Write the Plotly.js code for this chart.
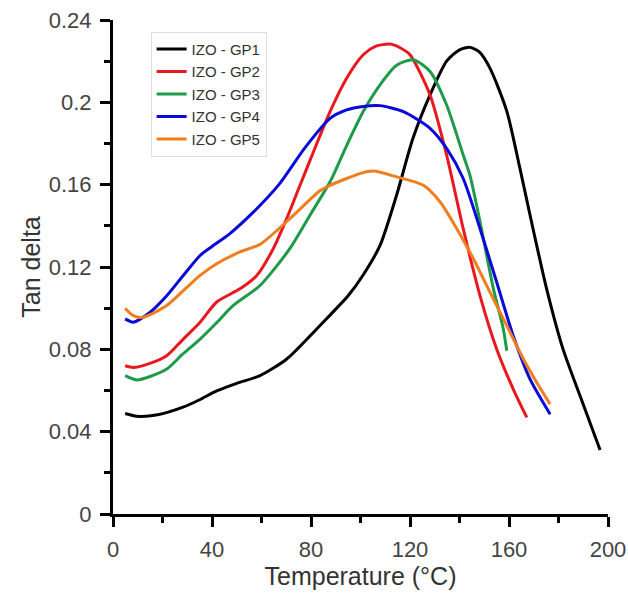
<!DOCTYPE html>
<html>
<head>
<meta charset="utf-8">
<script src="https://cdn.plot.ly/plotly-3.0.1.min.js"></script>
<style>html,body{margin:0;padding:0;background:#fff;}#chart{width:628px;height:597px;}</style>
</head>
<body>
<div id="chart"></div>
<script>
const seriesNames = ["IZO - GP1", "IZO - GP2", "IZO - GP3", "IZO - GP4", "IZO - GP5"];
const seriesColors = ["#000000", "#e8191e", "#1e9a48", "#0a0ad8", "#f07e1e"];

const gp1T = [4.9, 9.6, 18, 28.3, 35, 41.9, 50, 59.4, 70.2, 82.3, 88, 95, 101, 107.9, 114.6, 121.2, 128.1, 134.8, 140, 144.2, 148, 152.3, 159.1, 164.4, 169.7, 175.2, 181.8, 188.7, 196.8];
const gp1V = [0.0488, 0.0475, 0.0482, 0.0519, 0.0555, 0.0598, 0.0635, 0.0672, 0.0753, 0.0899, 0.097, 0.106, 0.116, 0.1305, 0.155, 0.1825, 0.2036, 0.220, 0.2255, 0.2267, 0.2245, 0.2166, 0.1957, 0.168, 0.1386, 0.1094, 0.0802, 0.0574, 0.0311];

const gp2T = [4.9, 8.2, 14, 21.7, 28, 35.2, 41.9, 51.3, 58.1, 64.8, 70, 75, 80, 87.7, 94.4, 101.1, 106, 111.9, 116, 120, 128.1, 134.8, 141.5, 148.3, 155, 161.7, 167.2];
const gp2V = [0.072, 0.0712, 0.0728, 0.0769, 0.0845, 0.0932, 0.103, 0.1094, 0.1159, 0.129, 0.143, 0.158, 0.173, 0.1955, 0.2117, 0.2231, 0.2272, 0.2283, 0.2265, 0.2231, 0.2036, 0.1744, 0.1386, 0.106, 0.0802, 0.0607, 0.0469];

const gp3T = [4.9, 9.6, 15, 21.7, 28, 35.2, 41.9, 48.6, 59.4, 71.5, 80, 87.7, 94.4, 101.1, 107.9, 114.6, 121.3, 128.1, 134.8, 141.5, 144.2, 148.3, 153.7, 157.7, 159.1];
const gp3V = [0.0672, 0.0651, 0.0668, 0.0704, 0.0775, 0.085, 0.093, 0.1013, 0.111, 0.129, 0.146, 0.1614, 0.179, 0.1955, 0.2085, 0.218, 0.2207, 0.215, 0.1987, 0.1744, 0.1646, 0.142, 0.1094, 0.0899, 0.0793];

const gp4T = [4.9, 8.2, 15, 21.7, 28.4, 35.2, 40, 47, 57, 67, 77.6, 87.7, 94.4, 101, 107.9, 117.3, 128.1, 134.8, 141.5, 148.3, 155, 161.7, 168.5, 176.6];
const gp4V = [0.0948, 0.0932, 0.098, 0.106, 0.1159, 0.1256, 0.130, 0.136, 0.147, 0.160, 0.178, 0.1922, 0.1963, 0.1980, 0.1984, 0.1955, 0.1874, 0.1776, 0.163, 0.1386, 0.1127, 0.0866, 0.0655, 0.0485];

const gp5T = [4.9, 8.2, 12.2, 21.7, 28, 35.2, 41.9, 51.3, 59.4, 71.5, 83.6, 87.7, 94.4, 100, 105.2, 114.6, 125.4, 132.1, 138.9, 145.6, 152.3, 159.1, 165.8, 171.2, 176.6];
const gp5V = [0.100, 0.0964, 0.0956, 0.1013, 0.108, 0.1159, 0.1216, 0.1273, 0.131, 0.1435, 0.157, 0.1597, 0.163, 0.1655, 0.1666, 0.1638, 0.1597, 0.1517, 0.1386, 0.124, 0.1078, 0.0915, 0.0753, 0.0639, 0.0534];

const xTickVals = [0, 40, 80, 120, 160, 200];
const yTickVals = [0, 0.04, 0.08, 0.12, 0.16, 0.2, 0.24];

const allT = [gp1T, gp2T, gp3T, gp4T, gp5T];
const allV = [gp1V, gp2V, gp3V, gp4V, gp5V];

const traces = seriesNames.map((n, i) => ({
  x: allT[i], y: allV[i], name: n, type: 'scatter', mode: 'lines',
  line: {color: seriesColors[i], width: 3, shape: 'spline', smoothing: 0.7}
}));

const layout = {
  width: 628, height: 597,
  margin: {l: 113, r: 20, t: 20, b: 83},
  paper_bgcolor: '#ffffff', plot_bgcolor: '#ffffff',
  font: {family: 'Liberation Sans, Arial, sans-serif', color: '#444'},
  showlegend: true,
  legend: {
    x: 0.076, y: 0.976, xanchor: 'left', yanchor: 'top',
    bgcolor: '#ffffff', bordercolor: '#dddddd', borderwidth: 1,
    font: {size: 15, color: '#333', family: 'Liberation Sans, Arial, sans-serif'},
    tracegroupgap: 0, itemwidth: 30
  },
  xaxis: {
    range: [0, 200], tickvals: xTickVals, ticktext: xTickVals.map(String),
    showgrid: false, zeroline: false, showline: true, linecolor: '#000', linewidth: 3,
    ticks: 'outside', ticklen: 10, tickwidth: 3, tickcolor: '#000',
    minor: {dtick: 20, ticks: 'outside', ticklen: 6, tickwidth: 3, tickcolor: '#000', showgrid: false},
    tickfont: {size: 22, color: '#444'}, ticklabelstandoff: 4,
    title: {text: 'Temperature (°C)', font: {size: 25, color: '#333'}, standoff: 2}
  },
  yaxis: {
    range: [0, 0.24], tickvals: yTickVals, ticktext: yTickVals.map(v => String(v)),
    showgrid: false, zeroline: false, showline: true, linecolor: '#000', linewidth: 3,
    ticks: 'outside', ticklen: 10, tickwidth: 3, tickcolor: '#000',
    minor: {dtick: 0.02, ticks: 'outside', ticklen: 6, tickwidth: 3, tickcolor: '#000', showgrid: false},
    tickfont: {size: 22, color: '#444'}, ticklabelstandoff: 4,
    title: {text: 'Tan delta', font: {size: 25, color: '#333'}, standoff: 2}
  }
};

Plotly.newPlot('chart', traces, layout, {displayModeBar: false, staticPlot: true});
</script>
</body>
</html>
